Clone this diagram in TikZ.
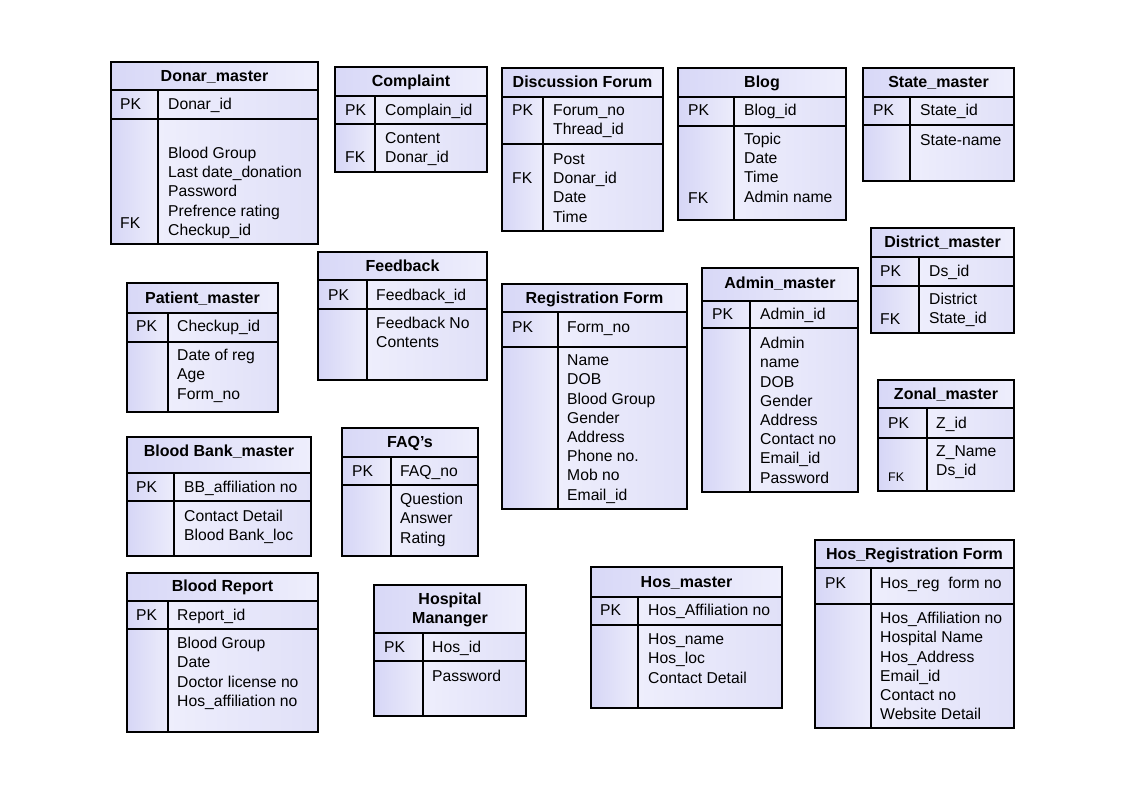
\documentclass[tikz,border=0pt]{standalone}
\usepackage{fontspec}
\setmainfont{Liberation Sans}
\definecolor{hdrL}{RGB}{216,216,247}
\definecolor{hdrR}{RGB}{238,238,252}
\definecolor{keyL}{RGB}{214,214,246}
\definecolor{keyR}{RGB}{236,236,251}
\definecolor{fldL}{RGB}{238,238,252}
\definecolor{fldR}{RGB}{224,224,248}
\tikzset{
  tline/.style={draw=black,line width=1.1pt},
  hdrshade/.style={left color=hdrL,right color=hdrR},
  keyshade/.style={left color=keyL,right color=keyR},
  fldshade/.style={left color=fldL,right color=fldR},
  ttl/.style={anchor=base,inner sep=0pt,font=\bfseries\fontsize{16}{19}\selectfont},
  fld/.style={anchor=base west,inner sep=0pt,font=\fontsize{15.7}{19}\selectfont},
  smallfld/.style={anchor=base west,inner sep=0pt,font=\fontsize{12.5}{15}\selectfont},
}
% frame: L R T H(header bottom) P(pk bottom) B D(divider)
\newcommand\ertable[7]{%
  \shade[hdrshade] (#1,#3) rectangle (#2,#4);
  \shade[keyshade] (#1,#4) rectangle (#7,#6);
  \shade[fldshade] (#7,#4) rectangle (#2,#6);
  \draw[tline] (#1,#3) rectangle (#2,#6);
  \draw[tline] (#1,#4) -- (#2,#4) (#1,#5) -- (#2,#5) (#7,#4) -- (#7,#6);
}
\newcommand\ttlat[4]{\node[ttl] (#1) at (#2,#3+5.7) {#4};}
\newcommand\txtat[4]{\node[fld] (#1) at (#2,#3+5.6) {#4};}
\newcommand\flist[4]{%
  \foreach \t [count=\i from 0] in {#4}
    \node[fld] (#1-\i) at (#2,{#3+5.6+19.2*\i}) {\t};
}
\begin{document}
\begin{tikzpicture}[x=1pt,y=-1pt]
\useasboundingbox[fill=white] (0,0) rectangle (1131,799);

% 1 Donar_master
\ertable{111}{318}{62}{90}{119}{244}{158}
\ttlat{donar}{214.5}{76}{Donar\_master}
\txtat{donar-pk}{120}{104}{PK}
\txtat{donar-id}{168}{104}{Donar\_id}
\flist{donar-f}{168}{153}{Blood Group,Last date\_donation,Password,Prefrence rating,Checkup\_id}
\txtat{donar-fk}{120}{223}{FK}

% 2 Complaint
\ertable{335}{487}{67}{96}{124}{172}{375}
\ttlat{complaint}{411}{81}{Complaint}
\txtat{complaint-pk}{345}{110}{PK}
\txtat{complaint-id}{385}{110}{Complain\_id}
\flist{complaint-f}{385}{138}{Content,Donar\_id}
\txtat{complaint-fk}{345}{157}{FK}

% 3 Discussion Forum
\ertable{502}{663}{68}{97}{144}{231}{543}
\ttlat{forum}{582.5}{82}{Discussion Forum}
\txtat{forum-pk}{512}{110}{PK}
\flist{forum-id}{553}{110}{Forum\_no,Thread\_id}
\flist{forum-f}{553}{159}{Post,Donar\_id,Date,Time}
\txtat{forum-fk}{512}{178}{FK}

% 4 Blog
\ertable{678}{846}{68}{97}{126}{220}{734}
\ttlat{blog}{762}{82}{Blog}
\txtat{blog-pk}{688}{110}{PK}
\txtat{blog-id}{744}{110}{Blog\_id}
\flist{blog-f}{744}{139}{Topic,Date,Time,Admin name}
\txtat{blog-fk}{688}{198}{FK}

% 5 State_master
\ertable{863}{1014}{68}{97}{125}{181}{910}
\ttlat{state}{938.5}{82}{State\_master}
\txtat{state-pk}{873}{110}{PK}
\txtat{state-id}{920}{110}{State\_id}
\flist{state-f}{920}{140}{State-name}

% 6 District_master
\ertable{871}{1014}{228}{257}{286}{333}{919}
\ttlat{district}{942.5}{242}{District\_master}
\txtat{district-pk}{880}{271}{PK}
\txtat{district-id}{929}{271}{Ds\_id}
\flist{district-f}{929}{299}{District,State\_id}
\txtat{district-fk}{880}{319}{FK}

% 7 Patient_master
\ertable{127}{278}{283}{313}{342}{412}{168}
\ttlat{patient}{202.5}{298}{Patient\_master}
\txtat{patient-pk}{136}{326}{PK}
\txtat{patient-id}{177}{326}{Checkup\_id}
\flist{patient-f}{177}{355}{Date of reg,Age,Form\_no}

% 8 Feedback
\ertable{318}{487}{252}{280}{309}{380}{367}
\ttlat{feedback}{402.5}{266}{Feedback}
\txtat{feedback-pk}{328}{295}{PK}
\txtat{feedback-id}{376}{295}{Feedback\_id}
\flist{feedback-f}{376}{323}{Feedback No,Contents}

% 9 Registration Form
\ertable{502}{687}{284}{312}{347}{509}{558}
\ttlat{regform}{594.5}{298}{Registration Form}
\txtat{regform-pk}{512}{327}{PK}
\txtat{regform-id}{567}{327}{Form\_no}
\flist{regform-f}{567}{360}{Name,DOB,Blood Group,Gender,Address,Phone no.,Mob no,Email\_id}

% 10 Admin_master
\ertable{702}{858}{268}{301}{328}{492}{750}
\ttlat{admin}{780}{282.5}{Admin\_master}
\txtat{admin-pk}{712}{314}{PK}
\txtat{admin-id}{760}{314}{Admin\_id}
\flist{admin-f}{760}{343}{Admin,name,DOB,Gender,Address,Contact no,Email\_id,Password}

% 11 Zonal_master
\ertable{878}{1014}{380}{408}{438}{491}{927}
\ttlat{zonal}{946}{394}{Zonal\_master}
\txtat{zonal-pk}{888}{423}{PK}
\txtat{zonal-id}{936}{423}{Z\_id}
\flist{zonal-f}{936}{451}{Z\_Name,Ds\_id}
\node[smallfld] (zonal-fk) at (888,481.5) {FK};

% 12 Blood Bank_master
\ertable{127}{311}{437}{473}{501}{556}{174}
\ttlat{bbank}{219}{451}{Blood Bank\_master}
\txtat{bbank-pk}{136}{487}{PK}
\txtat{bbank-id}{184}{487}{BB\_affiliation no}
\flist{bbank-f}{184}{516}{Contact Detail,Blood Bank\_loc}

% 13 FAQ's
\ertable{342}{478}{428}{457}{485}{556}{391}
\ttlat{faq}{410}{442}{FAQ’s}
\txtat{faq-pk}{352}{471}{PK}
\txtat{faq-id}{400}{471}{FAQ\_no}
\flist{faq-f}{400}{499}{Question,Answer,Rating}

% 14 Blood Report
\ertable{127}{318}{573}{601}{629}{732}{168}
\ttlat{breport}{222.5}{586}{Blood Report}
\txtat{breport-pk}{136}{615}{PK}
\txtat{breport-id}{177}{615}{Report\_id}
\flist{breport-f}{177}{643}{Blood Group,Date,Doctor license no,Hos\_affiliation no}

% 15 Hospital Mananger
\ertable{374}{526}{585}{633}{661}{716}{423}
\ttlat{hosmgr}{450}{599}{Hospital}
\ttlat{hosmgr-2}{450}{618}{Mananger}
\txtat{hosmgr-pk}{384}{647}{PK}
\txtat{hosmgr-id}{432}{647}{Hos\_id}
\flist{hosmgr-f}{432}{676}{Password}

% 16 Hos_master
\ertable{591}{782}{567}{597}{625}{708}{638}
\ttlat{hos}{686.5}{582}{Hos\_master}
\txtat{hos-pk}{600}{610}{PK}
\txtat{hos-id}{648}{610}{Hos\_Affiliation no}
\flist{hos-f}{648}{639}{Hos\_name,Hos\_loc,Contact Detail}

% 17 Hos_Registration Form
\ertable{815}{1014}{540}{568}{604}{728}{871}
\ttlat{hosreg}{914.5}{554}{Hos\_Registration Form}
\txtat{hosreg-pk}{825}{583}{PK}
\txtat{hosreg-id}{880}{583}{Hos\_reg\ \ form no}
\flist{hosreg-f}{880}{618}{Hos\_Affiliation no,Hospital Name,Hos\_Address,Email\_id,Contact no,Website Detail}

\end{tikzpicture}
\end{document}
